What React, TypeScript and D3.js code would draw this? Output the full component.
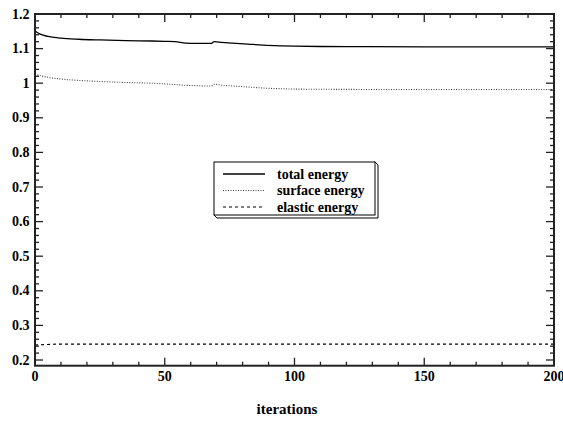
import React from 'react';
import * as d3 from 'd3';

const width = 563;
const height = 421;

// iteration numbers at which values were read
const iterations = [0, 2, 5, 10, 17, 25, 35, 45, 50, 54, 58, 62, 66, 68, 69, 72, 76, 82, 88, 95, 100, 110, 125, 150, 175, 200];
const totalEnergy = [1.151, 1.142, 1.135, 1.130, 1.127, 1.125, 1.123, 1.122, 1.121, 1.120, 1.116, 1.115, 1.115, 1.115, 1.120, 1.118, 1.116, 1.113, 1.110, 1.108, 1.107, 1.106, 1.1055, 1.105, 1.105, 1.105];
const surfaceEnergy = [1.027, 1.022, 1.017, 1.012, 1.008, 1.005, 1.002, 1.000, 0.998, 0.996, 0.994, 0.993, 0.992, 0.992, 0.997, 0.994, 0.992, 0.989, 0.986, 0.984, 0.983, 0.9825, 0.982, 0.982, 0.982, 0.982];
const elasticEnergy = [0.243, 0.244, 0.245, 0.246, 0.246, 0.246, 0.246, 0.246, 0.246, 0.246, 0.246, 0.246, 0.246, 0.246, 0.246, 0.246, 0.246, 0.246, 0.246, 0.246, 0.246, 0.246, 0.246, 0.246, 0.246, 0.246];

const xTickLabels = [0, 50, 100, 150, 200];
const yTickLabels = [0.2, 0.3, 0.4, 0.5, 0.6, 0.7, 0.8, 0.9, 1, 1.1, 1.2];
const seriesNames = ['total energy', 'surface energy', 'elastic energy'];

const font = '"Liberation Serif", "Times New Roman", serif';

export default function App() {
  const x = d3.scaleLinear().domain([0, 200]).range([35, 554]);
  const y = d3.scaleLinear().domain([0.2, 1.2]).range([360, 14]);
  const yMin = 0.1835;
  const left = x(0), right = x(200), top = y(1.2), bottom = y(yMin);

  const line = d3.line<number>()
    .x((d, i) => x(iterations[i]))
    .y(d => y(d))
    .curve(d3.curveMonotoneX);

  const series = [
    { name: seriesNames[0], values: totalEnergy, dash: 'none', color: '#000', w: 1.3 },
    { name: seriesNames[1], values: surfaceEnergy, dash: '1,1.5', color: '#444', w: 1.1 },
    { name: seriesNames[2], values: elasticEnergy, dash: '3,3', color: '#000', w: 1.1 },
  ];

  const xMinor = d3.range(0, 201, 10);
  const yMinor = d3.range(0.2, 1.2001, 0.02);
  const axisColor = '#222';

  // legend box
  const lx = 214, ly = 162, lw = 161, lh = 53, dep = 3;

  return (
    <svg width={width} height={height} style={{ position: 'absolute', left: 0, top: 0 }} fontFamily={font}>
      <rect width={width} height={height} fill="#fff" />
      <defs>
        <clipPath id="plot">
          <rect x={left} y={top} width={right - left} height={bottom - top} />
        </clipPath>
      </defs>

      {series.map(s => (
        <path key={s.name} d={line(s.values) || ''} fill="none" stroke={s.color}
          strokeWidth={s.w} strokeDasharray={s.dash} clipPath="url(#plot)" />
      ))}

      {/* ticks on all four sides, pointing inward */}
      {xMinor.map(v => {
        const major = v % 50 === 0;
        const len = major ? 8 : 4;
        return (
          <g key={'x' + v} stroke={axisColor} strokeWidth={1.3}>
            <line x1={x(v)} x2={x(v)} y1={bottom} y2={bottom - len} />
            <line x1={x(v)} x2={x(v)} y1={top} y2={top + len} />
          </g>
        );
      })}
      {yMinor.map(v => {
        const major = Math.abs(Math.round(v * 10) - v * 10) < 1e-6;
        const len = major ? 8 : 4;
        return (
          <g key={'y' + v.toFixed(2)} stroke={axisColor} strokeWidth={1.3}>
            <line x1={left} x2={left + len} y1={y(v)} y2={y(v)} />
            <line x1={right} x2={right - len} y1={y(v)} y2={y(v)} />
          </g>
        );
      })}

      <rect x={left} y={top} width={right - left} height={bottom - top} fill="none" stroke={axisColor} strokeWidth={2} />

      {yTickLabels.map(v => (
        <text key={'yl' + v} x={29.5} y={y(v) + 4.6} textAnchor="end" fontSize={14} fontWeight="bold">
          {String(v)}
        </text>
      ))}
      {xTickLabels.map(v => (
        <text key={'xl' + v} x={x(v)} y={380.5} textAnchor="middle" fontSize={14} fontWeight="bold">
          {String(v)}
        </text>
      ))}
      <text x={287} y={414} textAnchor="middle" fontSize={15} fontWeight="bold">iterations</text>

      {/* legend with extruded box */}
      <path
        d={`M${lx + lw},${ly} L${lx + lw + dep},${ly + dep} L${lx + lw + dep},${ly + lh + dep} L${lx + dep},${ly + lh + dep} L${lx},${ly + lh} Z`}
        fill="#fff" stroke="#000" strokeWidth={1} />
      <rect x={lx} y={ly} width={lw} height={lh} fill="#fff" stroke="#000" strokeWidth={1} />
      {series.map((s, i) => {
        const ry = 174 + i * 16.5;
        return (
          <g key={'lg' + s.name}>
            <line x1={223} x2={265} y1={ry} y2={ry} stroke={s.color} strokeWidth={s.w} strokeDasharray={s.dash} />
            <text x={277} y={ry + 4.5} fontSize={14} fontWeight="bold">{s.name}</text>
          </g>
        );
      })}
    </svg>
  );
}
